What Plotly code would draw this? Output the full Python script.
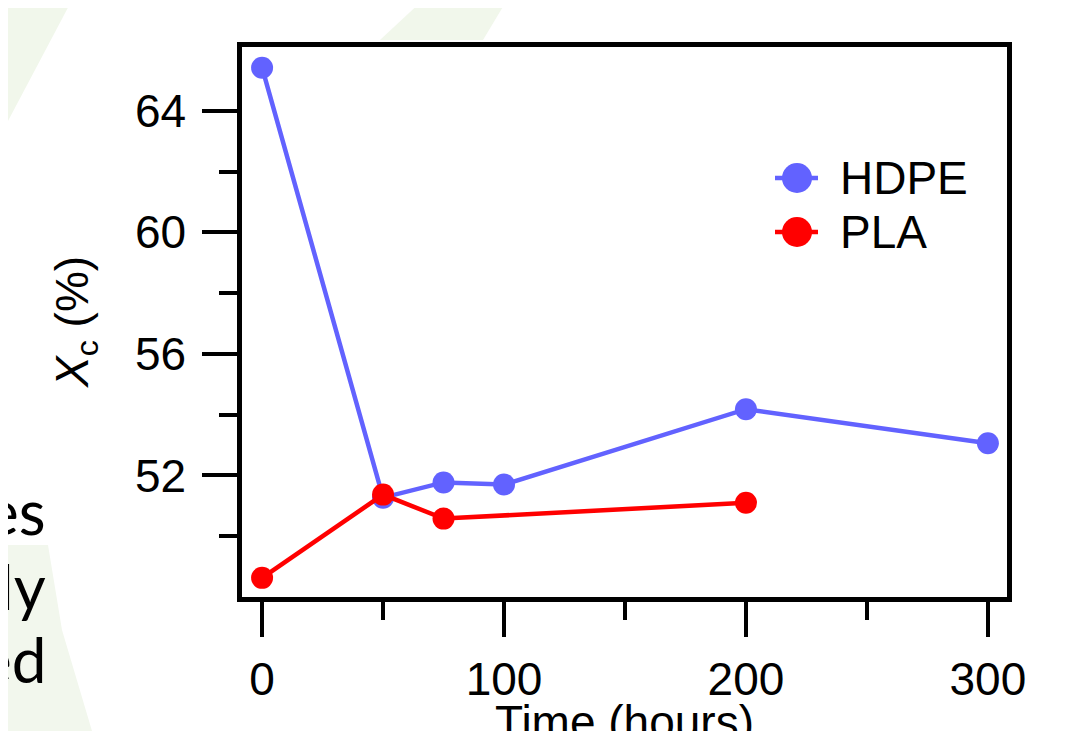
import plotly.graph_objects as go

# ---- data ----
hdpe_time = [0, 50, 75, 100, 200, 300]
hdpe_xc = [65.42, 51.27, 51.77, 51.70, 54.18, 53.06]
pla_time = [0, 50, 75, 200]
pla_xc = [48.63, 51.37, 50.58, 51.10]

series_names = ["HDPE", "PLA"]
series_colors = ["#6262ff", "#ff0000"]

x_ticks = [0, 100, 200, 300]
x_minor = [50, 150, 250]
y_ticks = [52, 56, 60, 64]
y_minor = [50, 54, 58, 62]

# page body has an 8px margin; compensate so the figure lands where the reference is
D = 8
W, H = 1070 - D, 731 - D
L, R, T, B = 242, 1007, 47, 597          # plot frame in reference pixels
FONT = "Liberation Sans, Arial, sans-serif"
FS = 46


def px(x):
    return (x - L) / (R - L)


def py(y):
    return (B - y) / (B - T)


fig = go.Figure()
for name, xs, ys, col in [(series_names[0], hdpe_time, hdpe_xc, series_colors[0]),
                          (series_names[1], pla_time, pla_xc, series_colors[1])]:
    fig.add_trace(go.Scatter(x=xs, y=ys, name=name, mode="lines+markers",
                             line=dict(color=col, width=4.5),
                             marker=dict(color=col, size=22),
                             showlegend=False))

axis_common = dict(showline=True, linecolor="black", linewidth=4.5, mirror=True,
                   ticks="outside", ticklen=35, tickwidth=4, tickcolor="black",
                   showgrid=False, zeroline=False,
                   tickfont=dict(family=FONT, size=FS, color="black"))

fig.update_xaxes(range=[-8.3, 307.9], tickmode="array", tickvals=x_ticks,
                 minor=dict(tickmode="array", tickvals=x_minor, ticklen=18, tickwidth=4,
                            tickcolor="black", ticks="outside"),
                 ticklabelstandoff=3, **axis_common)
fig.update_yaxes(range=[48.0, 66.1], tickmode="array", tickvals=y_ticks,
                 minor=dict(tickmode="array", tickvals=y_minor, ticklen=18, tickwidth=4,
                            tickcolor="black", ticks="outside"),
                 ticklabelstandoff=7, **axis_common)

# decorative slide background shapes (very faint green)
shapes = [
    dict(type="path", xref="paper", yref="paper", layer="below", line=dict(width=0),
         fillcolor="#f1f7eb",
         path="M{},{} L{},{} L{},{} Z".format(px(0), py(0), px(72), py(0), px(0), py(136))),
    dict(type="path", xref="paper", yref="paper", layer="below", line=dict(width=0),
         fillcolor="#f1f7eb",
         path="M{},{} L{},{} L{},{} L{},{} Z".format(px(423), py(0), px(507), py(0),
                                                     px(483), py(40), px(380), py(40))),
    dict(type="path", xref="paper", yref="paper", layer="below", line=dict(width=0),
         fillcolor="#f2f7ed",
         path="M{},{} L{},{} L{},{} L{},{} L{},{} Z".format(px(0), py(545), px(48), py(545),
                                                            px(62), py(630), px(92), py(731),
                                                            px(0), py(731))),
]

# legend key (symbol = short line + large dot, as in the reference)
legend_rows = [178, 232]
for name, col, yc in zip(series_names, series_colors, legend_rows):
    shapes.append(dict(type="line", xref="paper", yref="paper",
                       x0=px(775), x1=px(818), y0=py(yc), y1=py(yc),
                       line=dict(color=col, width=4.5)))
    shapes.append(dict(type="circle", xref="paper", yref="paper",
                       x0=px(782), x1=px(812), y0=py(yc + 15), y1=py(yc - 15),
                       fillcolor=col, line=dict(width=0)))

annotations = [
    dict(xref="paper", yref="paper", x=px(75), y=0.5, text="<i>X</i><sub>c</sub> (%)",
         textangle=-90, showarrow=False, xanchor="center", yanchor="middle",
         font=dict(family=FONT, size=FS, color="black")),
    dict(xref="paper", yref="paper", x=0.5, y=py(694), text="Time (hours)",
         showarrow=False, xanchor="center", yanchor="top",
         font=dict(family=FONT, size=FS, color="black")),
]
for name, yc in zip(series_names, legend_rows):
    annotations.append(dict(xref="paper", yref="paper", x=px(838), y=py(yc), text=name,
                            showarrow=False, xanchor="left", yanchor="middle",
                            font=dict(family=FONT, size=FS, color="black")))
for txt, base in [("es", 536), ("ly", 611), ("ed", 684)]:
    annotations.append(dict(xref="paper", yref="paper", x=px(48), y=py(base + 14), text=txt,
                            showarrow=False, xanchor="right", yanchor="bottom",
                            font=dict(family="Lato, Open Sans, sans-serif", size=62,
                                      color="black")))

fig.update_layout(
    width=W, height=H,
    margin=dict(l=L - D, r=W - (R - D), t=T - D, b=H - (B - D), pad=0),
    paper_bgcolor="white", plot_bgcolor="white",
    showlegend=False,
    shapes=shapes, annotations=annotations,
)

fig.write_html("out.html")
